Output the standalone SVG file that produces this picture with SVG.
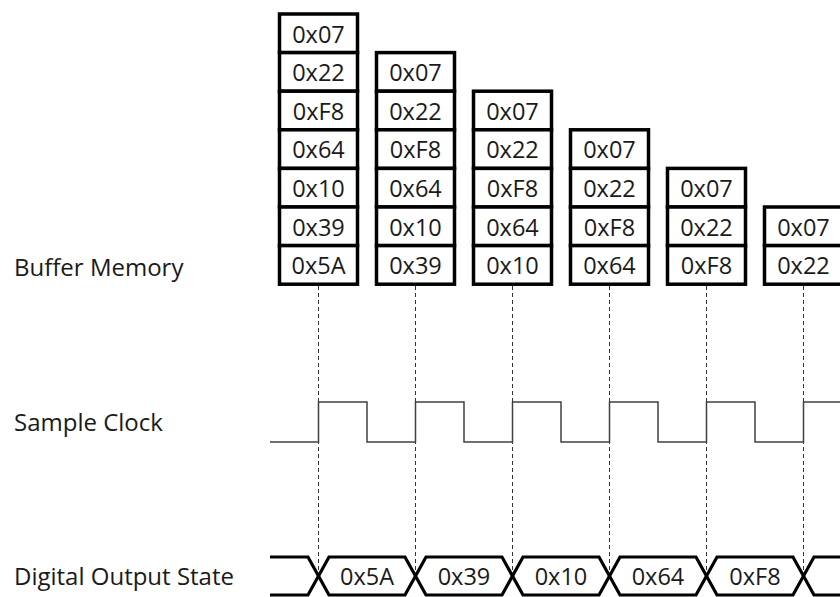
<svg xmlns="http://www.w3.org/2000/svg" width="840" height="597" viewBox="0 0 840 597">
<style>
  text { font-family: "Open Sans", "Noto Sans", "Liberation Sans", sans-serif; fill: #1a1a1a; }
  .lbl { font-size: 24px; }
  .cell rect { fill: #ffffff; stroke: #000000; stroke-width: 3.5; }
  .cell text { font-size: 23.5px; text-anchor: middle; }
  .dash { stroke: #333333; stroke-width: 1; stroke-dasharray: 4 3; fill: none; }
  .clk { stroke: #404040; stroke-width: 1.5; fill: none; }
  .bus { stroke: #000000; stroke-width: 3.2; fill: none; stroke-linejoin: miter; }
  .bustxt { font-size: 23.5px; text-anchor: middle; }
</style>
<rect x="0" y="0" width="840" height="597" fill="#ffffff"/>

<g id="labels">
  <text class="lbl" x="14" y="276">Buffer Memory</text>
  <text class="lbl" x="14" y="431">Sample Clock</text>
  <text class="lbl" x="14" y="585">Digital Output State</text>
</g>

<g id="connectors">
  <line class="dash" x1="318.5" y1="286" x2="318.5" y2="576"/>
  <line class="dash" x1="415.5" y1="286" x2="415.5" y2="576"/>
  <line class="dash" x1="512.5" y1="286" x2="512.5" y2="576"/>
  <line class="dash" x1="609.5" y1="286" x2="609.5" y2="576"/>
  <line class="dash" x1="706.5" y1="286" x2="706.5" y2="576"/>
  <line class="dash" x1="803.5" y1="286" x2="803.5" y2="576"/>
</g>

<g id="buffer1" class="cell">
  <rect x="279.5" y="14" width="78" height="38.6"/><text x="318.5" y="42.5">0x07</text>
  <rect x="279.5" y="52.6" width="78" height="38.6"/><text x="318.5" y="81.1">0x22</text>
  <rect x="279.5" y="91.2" width="78" height="38.6"/><text x="318.5" y="119.7">0xF8</text>
  <rect x="279.5" y="129.8" width="78" height="38.6"/><text x="318.5" y="158.3">0x64</text>
  <rect x="279.5" y="168.4" width="78" height="38.6"/><text x="318.5" y="196.9">0x10</text>
  <rect x="279.5" y="207" width="78" height="38.6"/><text x="318.5" y="235.5">0x39</text>
  <rect x="279.5" y="245.6" width="78" height="38.6"/><text x="318.5" y="274.1">0x5A</text>
</g>
<g id="buffer2" class="cell">
  <rect x="376.5" y="52.6" width="78" height="38.6"/><text x="415.5" y="81.1">0x07</text>
  <rect x="376.5" y="91.2" width="78" height="38.6"/><text x="415.5" y="119.7">0x22</text>
  <rect x="376.5" y="129.8" width="78" height="38.6"/><text x="415.5" y="158.3">0xF8</text>
  <rect x="376.5" y="168.4" width="78" height="38.6"/><text x="415.5" y="196.9">0x64</text>
  <rect x="376.5" y="207" width="78" height="38.6"/><text x="415.5" y="235.5">0x10</text>
  <rect x="376.5" y="245.6" width="78" height="38.6"/><text x="415.5" y="274.1">0x39</text>
</g>
<g id="buffer3" class="cell">
  <rect x="473.5" y="91.2" width="78" height="38.6"/><text x="512.5" y="119.7">0x07</text>
  <rect x="473.5" y="129.8" width="78" height="38.6"/><text x="512.5" y="158.3">0x22</text>
  <rect x="473.5" y="168.4" width="78" height="38.6"/><text x="512.5" y="196.9">0xF8</text>
  <rect x="473.5" y="207" width="78" height="38.6"/><text x="512.5" y="235.5">0x64</text>
  <rect x="473.5" y="245.6" width="78" height="38.6"/><text x="512.5" y="274.1">0x10</text>
</g>
<g id="buffer4" class="cell">
  <rect x="570.5" y="129.8" width="78" height="38.6"/><text x="609.5" y="158.3">0x07</text>
  <rect x="570.5" y="168.4" width="78" height="38.6"/><text x="609.5" y="196.9">0x22</text>
  <rect x="570.5" y="207" width="78" height="38.6"/><text x="609.5" y="235.5">0xF8</text>
  <rect x="570.5" y="245.6" width="78" height="38.6"/><text x="609.5" y="274.1">0x64</text>
</g>
<g id="buffer5" class="cell">
  <rect x="667.5" y="168.4" width="78" height="38.6"/><text x="706.5" y="196.9">0x07</text>
  <rect x="667.5" y="207" width="78" height="38.6"/><text x="706.5" y="235.5">0x22</text>
  <rect x="667.5" y="245.6" width="78" height="38.6"/><text x="706.5" y="274.1">0xF8</text>
</g>
<g id="buffer6" class="cell">
  <rect x="764.5" y="207" width="78" height="38.6"/><text x="803.5" y="235.5">0x07</text>
  <rect x="764.5" y="245.6" width="78" height="38.6"/><text x="803.5" y="274.1">0x22</text>
</g>

<g id="sample-clock">
  <path class="clk" d="M270,442 H318.5 V402 H367 V442 H415.5 V402 H464 V442 H512.5 V402 H561 V442 H609.5 V402 H658 V442 H706.5 V402 H755 V442 H803.5 V402 H840"/>
</g>

<g id="digital-output">
  <path class="bus" d="M270,557 H308 L329,595 H405 L426,557 H502 L523,595 H599 L620,557 H696 L717,595 H793 L814,557 H840"/>
  <path class="bus" d="M270,595 H308 L329,557 H405 L426,595 H502 L523,557 H599 L620,595 H696 L717,557 H793 L814,595 H840"/>
  <text class="bustxt" x="367" y="584.5">0x5A</text>
  <text class="bustxt" x="464" y="584.5">0x39</text>
  <text class="bustxt" x="561" y="584.5">0x10</text>
  <text class="bustxt" x="658" y="584.5">0x64</text>
  <text class="bustxt" x="755" y="584.5">0xF8</text>
</g>
</svg>
